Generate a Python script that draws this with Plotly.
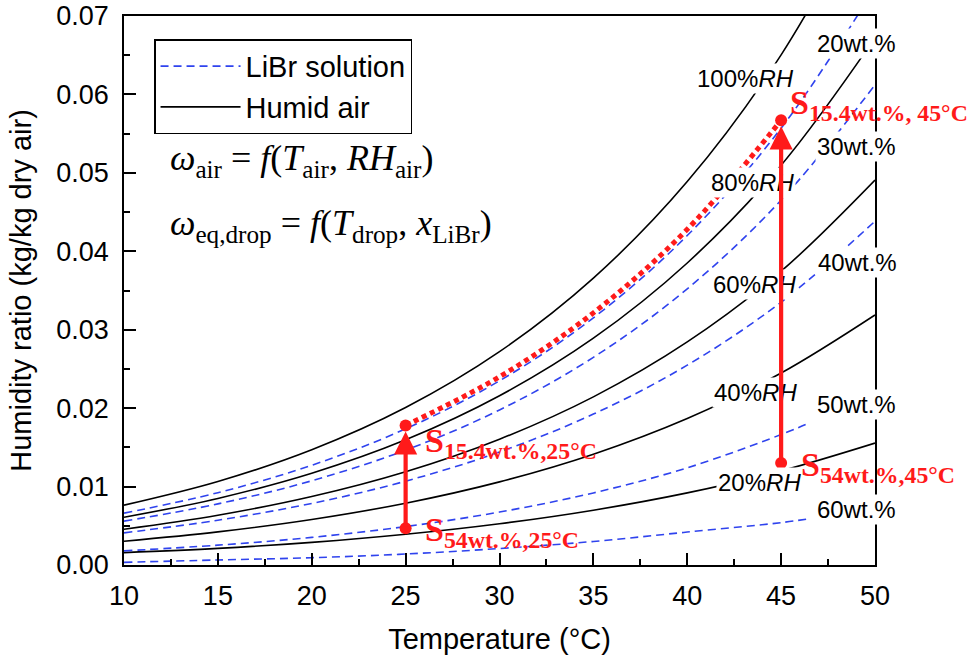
import plotly.graph_objects as go

# ---------------- data ----------------
T_air = [10, 15, 20, 25, 30, 35, 40, 45, 50]
air_rh100 = [0.00763, 0.01065, 0.01470, 0.02008, 0.02720, 0.03658, 0.04889, 0.06505, 0.08634]
air_rh80 = [0.00609, 0.00849, 0.01170, 0.01596, 0.02158, 0.02892, 0.03851, 0.05097, 0.06720]
air_rh60 = [0.00456, 0.00634, 0.00873, 0.01189, 0.01604, 0.02144, 0.02844, 0.03746, 0.04908]
air_rh40 = [0.00303, 0.00422, 0.00580, 0.00788, 0.01060, 0.01413, 0.01868, 0.02448, 0.03188]
air_rh20 = [0.00158, 0.00212, 0.00289, 0.00392, 0.00526, 0.00699, 0.00920, 0.01200, 0.01554]

T_libr = [10, 15, 20, 25, 30, 35, 40, 45, 50]
libr_20 = [0.00661, 0.00922, 0.01272, 0.01736, 0.02348, 0.03151, 0.04201, 0.05570, 0.07360]
libr_30 = [0.00559, 0.00779, 0.01074, 0.01464, 0.01977, 0.02648, 0.03521, 0.04653, 0.06122]
libr_40 = [0.00410, 0.00571, 0.00785, 0.01069, 0.01441, 0.01924, 0.02548, 0.03352, 0.04383]
T_libr_short = [10, 15, 20, 25, 30, 35, 40, 45, 46.5]
libr_50 = [0.00180, 0.00253, 0.00352, 0.00490, 0.00675, 0.00919, 0.01239, 0.01663, 0.01810]
libr_60 = [0.00034, 0.00064, 0.00093, 0.00140, 0.00210, 0.00300, 0.00420, 0.00540, 0.00590]

T_drop = [25, 30, 35, 40, 45]
w_drop = [0.0178, 0.0240, 0.03215, 0.0428, 0.0567]

state_T = [25, 25, 45, 45]
state_w = [0.0047, 0.0178, 0.0130, 0.0567]

rh_labels = ["100%<i>RH</i>", "80%<i>RH</i>", "60%<i>RH</i>", "40%<i>RH</i>", "20%<i>RH</i>"]
rh_label_T = [43.08, 43.45, 43.56, 43.66, 43.87]
rh_label_w = [0.06206, 0.04875, 0.03581, 0.02198, 0.01051]

wt_labels = ["20wt.%", "30wt.%", "40wt.%", "50wt.%", "60wt.%"]
wt_label_T = [48.99, 48.99, 49.07, 48.99, 48.99]
wt_label_w = [0.06652, 0.0534, 0.03855, 0.02052, 0.00714]

s_labels = ["S<sub>15.4wt.%, 45°C</sub>", "S<sub>15.4wt.%,25°C</sub>",
            "S<sub>54wt.%,25°C</sub>", "S<sub>54wt.%,45°C</sub>"]
s_label_T = [45.36, 25.93, 25.93, 45.95]
s_label_w = [0.0586, 0.01555, 0.0042, 0.0125]

# ---------------- styles ----------------
BLUE = "#2f43ee"
RED = "#ff1a1a"
SANS = "Liberation Sans, Arial, sans-serif"
SERIF = "Liberation Serif, Times New Roman, serif"

fig = go.Figure()

air_sets = [air_rh100, air_rh80, air_rh60, air_rh40, air_rh20]
for i, w in enumerate(air_sets):
    fig.add_trace(go.Scatter(
        x=T_air, y=w, mode="lines", line=dict(color="black", width=1.6, shape="spline"),
        name="Humid air", legendgroup="air", showlegend=(i == 0), legendrank=2,
        hoverinfo="skip"))

libr_sets = [(T_libr, libr_20), (T_libr, libr_30), (T_libr, libr_40),
             (T_libr_short, libr_50), (T_libr_short, libr_60)]
for i, (tx, w) in enumerate(libr_sets):
    fig.add_trace(go.Scatter(
        x=tx, y=w, mode="lines",
        line=dict(color=BLUE, width=1.6, dash="8px,5px", shape="spline"),
        name="LiBr solution", legendgroup="libr", showlegend=(i == 0), legendrank=1,
        hoverinfo="skip"))

fig.add_trace(go.Scatter(
    x=T_drop, y=w_drop, mode="lines",
    line=dict(color=RED, width=5, dash="5px,4px", shape="spline"),
    showlegend=False, hoverinfo="skip"))

fig.add_trace(go.Scatter(
    x=state_T, y=state_w, mode="markers",
    marker=dict(color=RED, size=12), showlegend=False, hoverinfo="skip"))

annotations = []
for txt, tx, ty in zip(rh_labels, rh_label_T, rh_label_w):
    annotations.append(dict(x=tx, y=ty, xref="x", yref="y", text=txt, showarrow=False,
                            font=dict(family=SANS, size=24, color="black"),
                            bgcolor="white", borderpad=1))
for txt, tx, ty in zip(wt_labels, wt_label_T, wt_label_w):
    annotations.append(dict(x=tx, y=ty, xref="x", yref="y", text=txt, showarrow=False,
                            font=dict(family=SANS, size=24, color="black"),
                            bgcolor="white", borderpad=1))

# arrows from the 54 wt.% states up to the 15.4 wt.% states
for (x0, y0), (x1, y1) in [((state_T[0], state_w[0]), (state_T[1], state_w[1])),
                           ((state_T[2], state_w[2]), (state_T[3], state_w[3]))]:
    annotations.append(dict(x=x1, y=y1, ax=x0, ay=y0, xref="x", yref="y",
                            axref="x", ayref="y", text="", showarrow=True,
                            arrowhead=2, arrowsize=1.1, arrowwidth=4.2,
                            arrowcolor=RED, standoff=6, startstandoff=0))

for txt, tx, ty in zip(s_labels, s_label_T, s_label_w):
    annotations.append(dict(x=tx, y=ty, xref="x", yref="y", text="<b>" + txt + "</b>",
                            showarrow=False, xanchor="left",
                            font=dict(family=SERIF, size=34, color=RED)))

annotations.append(dict(x=12.34, y=0.0516, xref="x", yref="y", xanchor="left",
                        text="<i>ω</i><sub>air</sub> = <i>f</i>(<i>T</i><sub>air</sub>, <i>RH</i><sub>air</sub>)",
                        showarrow=False, font=dict(family=SERIF, size=36, color="black")))
annotations.append(dict(x=12.34, y=0.0433, xref="x", yref="y", xanchor="left",
                        text="<i>ω</i><sub>eq,drop</sub> = <i>f</i>(<i>T</i><sub>drop</sub>, <i>x</i><sub>LiBr</sub>)",
                        showarrow=False, font=dict(family=SERIF, size=36, color="black")))

axis_common = dict(showline=True, linecolor="black", linewidth=1.6, mirror=True,
                   showgrid=False, zeroline=False, ticks="inside", ticklen=12,
                   tickwidth=1.6, tickcolor="black", automargin=False,
                   ticklabeloverflow="allow",
                   tickfont=dict(family=SANS, size=27, color="black"))

fig.update_layout(
    width=972, height=656,
    margin=dict(l=124, r=97, t=16, b=91),
    paper_bgcolor="white", plot_bgcolor="white",
    xaxis=dict(range=[10, 50], tick0=10, dtick=5,
               minor=dict(ticks="inside", ticklen=6, dtick=2.5, tickwidth=1.6, tickcolor="black"),
               title=dict(text="Temperature (°C)", font=dict(family=SANS, size=29, color="black"),
                          standoff=18),
               ticklabelstandoff=6,
               **axis_common),
    yaxis=dict(range=[0, 0.07], tick0=0, dtick=0.01, tickformat=".2f",
               minor=dict(ticks="inside", ticklen=6, dtick=0.005, tickwidth=1.6, tickcolor="black"),
               title=dict(text="Humidity ratio (kg/kg dry air)",
                          font=dict(family=SANS, size=29, color="black"), standoff=16),
               ticklabelstandoff=8,
               **axis_common),
    legend=dict(x=0.04, y=0.9576, xanchor="left", yanchor="top",
                bordercolor="black", borderwidth=1.5, bgcolor="white",
                font=dict(family=SANS, size=29, color="black"),
                itemwidth=80, tracegroupgap=0),
    annotations=annotations,
    showlegend=True,
)

# remove the page's default body margin so the 972x656 figure fills the window exactly
fig.write_html("out.html",
               config={"displayModeBar": False},
               post_script="document.body.style.margin='0';document.body.style.overflow='hidden';")
